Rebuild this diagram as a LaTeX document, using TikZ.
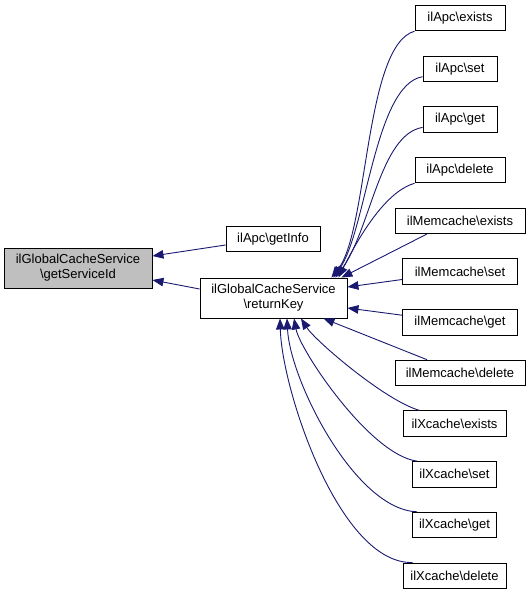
\documentclass[tikz,border=0pt]{standalone}
\usepackage{fontspec}
\setmainfont{Liberation Sans}
\usetikzlibrary{arrows.meta,positioning}
\definecolor{edgeblue}{RGB}{25,25,112}
\definecolor{focusgrey}{RGB}{191,191,191}
\tikzstyle{func} = [draw, rectangle, line width=0.9pt, inner xsep=2pt, inner ysep=0pt, minimum height=25.5pt, font=\fontsize{13}{15}\selectfont]
\tikzstyle{func2} = [func, align=center, minimum height=40pt]
\tikzstyle{call} = [->, draw=edgeblue, line width=0.9pt]

\begin{document}
\begin{tikzpicture}[x=1pt, y=-1pt, node distance=50.7pt, >={Triangle[length=11pt,width=8.5pt]}]
		\useasboundingbox (0,0) rectangle (531,595);
		\node [func2, fill=focusgrey, minimum width=148pt] (serviceId) at (78,268) {ilGlobalCacheService\\\textbackslash getServiceId};
		\node [func2, minimum width=147pt] (returnKey) at (273.5,298) {ilGlobalCacheService\\\textbackslash returnKey};
		\node [func, minimum width=94pt] (getInfo) at (273,239) {ilApc\textbackslash getInfo};
		\node [func, minimum width=90pt] (apcexists) at (460,18) {ilApc\textbackslash exists};
		\node [func, minimum width=74pt, below of=apcexists] (apcset) {ilApc\textbackslash set};
		\node [func, minimum width=74pt, below of=apcset] (apcget) {ilApc\textbackslash get};
		\node [func, minimum width=90pt, below of=apcget] (apcdelete) {ilApc\textbackslash delete};
		\node [func, minimum width=130pt, below of=apcdelete] (memexists) {ilMemcache\textbackslash exists};
		\node [func, minimum width=115pt, below of=memexists] (memset) {ilMemcache\textbackslash set};
		\node [func, minimum width=115pt, below of=memset] (memget) {ilMemcache\textbackslash get};
		\node [func, minimum width=130pt, below of=memget] (memdelete) {ilMemcache\textbackslash delete};
		\node [func, minimum width=103pt, below of=memdelete, xshift=-5.5pt] (xcexists) {ilXcache\textbackslash exists};
		\node [func, minimum width=84pt, below of=xcexists] (xcset) {ilXcache\textbackslash set};
		\node [func, minimum width=84pt, below of=xcset] (xcget) {ilXcache\textbackslash get};
		\node [func, minimum width=103pt, below of=xcget] (xcdelete) {ilXcache\textbackslash delete};

		\draw [call] ([yshift=-6pt]getInfo.west) -- ([yshift=12pt]serviceId.east);
		\draw [call] ([yshift=9pt]returnKey.west) -- ([yshift=-12pt]serviceId.east);
		\draw [call] (apcexists.south west) .. controls +(-50,14) and +(37,-47) .. ([xshift=-16pt]returnKey.north east);
		\draw [call] ([yshift=-8pt]apcset.west) .. controls +(-48,8) and +(33,-47) .. ([xshift=-14pt]returnKey.north east);
		\draw [call] ([yshift=-8pt]apcget.west) .. controls +(-43,7) and +(35,-47) .. ([xshift=-12pt]returnKey.north east);
		\draw [call] (apcdelete.south west) .. controls +(-25,7) and +(26,-52) .. ([xshift=-9pt]returnKey.north east);
		\draw [call] ([xshift=-33pt]memexists.south) -- ([xshift=-6pt]returnKey.north east);
		\draw [call] ([yshift=-8pt]memset.west) -- ([yshift=11pt]returnKey.east);
		\draw [call] ([yshift=7pt]memget.west) -- ([yshift=-10pt]returnKey.east);
		\draw [call] ([xshift=-33pt]memdelete.north) -- ([xshift=-24pt]returnKey.south east);
		\draw [call] ([xshift=17pt]xcexists.north west) .. controls +(-35,-10) and +(14,22) .. ([xshift=27.5pt]returnKey.south);
		\draw [call] ([xshift=5pt]xcset.north west) .. controls +(-47,-6) and +(6,32) .. ([xshift=20.5pt]returnKey.south);
		\draw [call] ([xshift=5pt]xcget.north west) .. controls +(-62,-2) and +(3,62) .. ([xshift=13.5pt]returnKey.south);
		\draw [call] ([xshift=10pt]xcdelete.north west) .. controls +(-73,2) and +(2,72) .. ([xshift=6.5pt]returnKey.south);
	\end{tikzpicture}
\end{document}
